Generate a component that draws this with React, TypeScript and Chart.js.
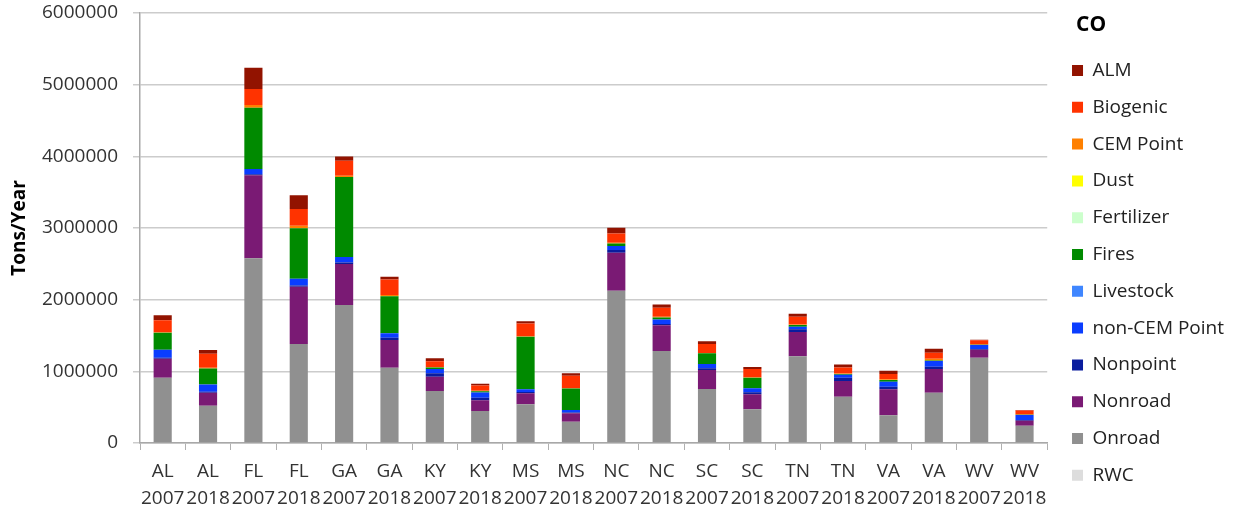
import React, { useEffect, useRef } from "react";
import { Chart, registerables } from "chart.js";

Chart.register(...registerables);

const states = ["AL", "AL", "FL", "FL", "GA", "GA", "KY", "KY", "MS", "MS", "NC", "NC", "SC", "SC", "TN", "TN", "VA", "VA", "WV", "WV"];
const years = ["2007", "2018", "2007", "2018", "2007", "2018", "2007", "2018", "2007", "2018", "2007", "2018", "2007", "2018", "2007", "2018", "2007", "2018", "2007", "2018"];

const yTicks = [0, 1000000, 2000000, 3000000, 4000000, 5000000, 6000000];

// Series (bottom of stack first)
const rwc = [0, 0, 0, 0, 0, 0, 0, 0, 0, 0, 0, 0, 0, 0, 0, 0, 0, 0, 0, 0];
const onroad = [910000, 520000, 2577000, 1381000, 1925000, 1051000, 725000, 445000, 540000, 297000, 2125000, 1284000, 753000, 470000, 1209000, 646000, 386000, 702000, 1190000, 241000];
const nonroad = [265000, 181000, 1158000, 800000, 572000, 386000, 200000, 153000, 153000, 117000, 530000, 358000, 265000, 209000, 340000, 219000, 363000, 330000, 112000, 70000];
const nonpoint = [15000, 15000, 15000, 15000, 20000, 32000, 47000, 32000, 20000, 10000, 37000, 18000, 24000, 28000, 37000, 46000, 37000, 32000, 10000, 10000];
const nonCemPoint = [110000, 102000, 73000, 97000, 78000, 61000, 60000, 74000, 36000, 36000, 56000, 64000, 60000, 56000, 37000, 42000, 70000, 80000, 56000, 70000];
const livestock = [0, 0, 0, 0, 0, 0, 0, 0, 0, 0, 0, 0, 0, 0, 0, 0, 0, 0, 0, 0];
const fires = [237000, 223000, 855000, 703000, 1116000, 516000, 22000, 18000, 735000, 299000, 36000, 27000, 149000, 148000, 24000, 10000, 22000, 8000, 3000, 2000];
const fertilizer = [0, 0, 0, 0, 0, 0, 0, 0, 0, 0, 0, 0, 0, 0, 0, 0, 0, 0, 0, 0];
const dust = [0, 0, 0, 0, 0, 0, 0, 0, 0, 0, 0, 0, 0, 0, 0, 0, 0, 0, 0, 0];
const cemPoint = [10000, 10000, 37000, 36000, 18000, 18000, 6000, 7000, 5000, 5000, 10000, 10000, 6000, 6000, 8000, 8000, 10000, 24000, 5000, 3000];
const biogenic = [167000, 195000, 223000, 233000, 209000, 219000, 80000, 75000, 177000, 176000, 131000, 126000, 126000, 117000, 106000, 84000, 74000, 84000, 56000, 56000];
const alm = [70000, 50000, 297000, 191000, 61000, 37000, 42000, 22000, 32000, 33000, 78000, 47000, 36000, 28000, 42000, 42000, 46000, 56000, 10000, 10000];

const seriesNames = ["RWC", "Onroad", "Nonroad", "Nonpoint", "non-CEM Point", "Livestock", "Fires", "Fertilizer", "Dust", "CEM Point", "Biogenic", "ALM"];
const seriesValues = [rwc, onroad, nonroad, nonpoint, nonCemPoint, livestock, fires, fertilizer, dust, cemPoint, biogenic, alm];
const seriesColors = ["#dddddd", "#909090", "#7a1a74", "#0a1d9e", "#0a3dff", "#3f86ff", "#008a00", "#ccffcc", "#ffff00", "#ff8000", "#ff3300", "#921300"];

export default function App() {
  const canvasRef = useRef<HTMLCanvasElement | null>(null);

  useEffect(() => {
    const canvas = canvasRef.current;
    if (!canvas) return;
    Chart.defaults.font.family = "'Open Sans', sans-serif";
    const labels = states.map((s, i) => [s, years[i]]);
    const chart = new Chart(canvas, {
      type: "bar",
      data: {
        labels,
        datasets: seriesNames.map((name, i) => ({
          label: name,
          data: seriesValues[i],
          backgroundColor: seriesColors[i],
          borderWidth: 0,
          stack: "s",
          categoryPercentage: 1,
          barPercentage: 0.4,
        })),
      },
      options: {
        responsive: false,
        animation: false,
        layout: { padding: { top: 0, right: 0, bottom: 0, left: 0 } },
        plugins: {
          tooltip: { enabled: false },
          legend: {
            position: "right",
            align: "start",
            reverse: true,
            title: {
              display: true,
              text: "    CO",
              position: "start",
              color: "#000",
              font: { size: 21, weight: "bold" },
              padding: { top: 14.5, bottom: 3.5 },
            },
            labels: {
              boxWidth: 11,
              boxHeight: 11,
              padding: 17.8,
              color: "#222",
              font: { size: 19 },
            },
          },
        },
        scales: {
          x: {
            stacked: true,
            afterFit: (s: any) => { s.height = 67; },
            grid: { display: true, drawOnChartArea: false, offset: true, tickLength: 7, color: "#b0b0b0", lineWidth: 1 },
            border: { display: true, color: "#a8a8a8", width: 1.5 },
            ticks: {
              autoSkip: false,
              maxRotation: 0,
              minRotation: 0,
              padding: 8,
              color: "#333",
              font: { size: 19, lineHeight: 1.42 },
            },
          },
          y: {
            stacked: true,
            min: 0,
            max: 6000000,
            afterFit: (s: any) => {
              s.width = 140;
              s.paddingTop = 13;
              s.paddingBottom = 12;
            },
            afterBuildTicks: (s: any) => { s.ticks = yTicks.map((v) => ({ value: v })); },
            grid: { color: "#cccccc", lineWidth: 1.5, tickLength: 7 },
            border: { display: true, color: "#a8a8a8", width: 1.5 },
            ticks: {
              padding: 15,
              color: "#333",
              font: { size: 19 },
              callback: (v: any) => String(v),
            },
            title: {
              display: true,
              text: "Tons/Year",
              color: "#000",
              font: { size: 19, weight: "bold" },
              padding: { top: 8.6, bottom: 0 },
            },
          },
          yR: {
            position: "right",
            display: true,
            afterFit: (s: any) => { s.width = 7; s.paddingTop = 0; s.paddingBottom = 0; },
            grid: { display: false, drawTicks: false },
            border: { display: false },
            ticks: { display: false },
          },
        },
      },
    });
    return () => chart.destroy();
  }, []);

  return (
    <div style={{ position: "fixed", left: 0, top: 0, width: 1234, height: 510, background: "#fff" }}>
      <canvas ref={canvasRef} width={1234} height={510} style={{ display: "block", width: 1234, height: 510 }} />
    </div>
  );
}
